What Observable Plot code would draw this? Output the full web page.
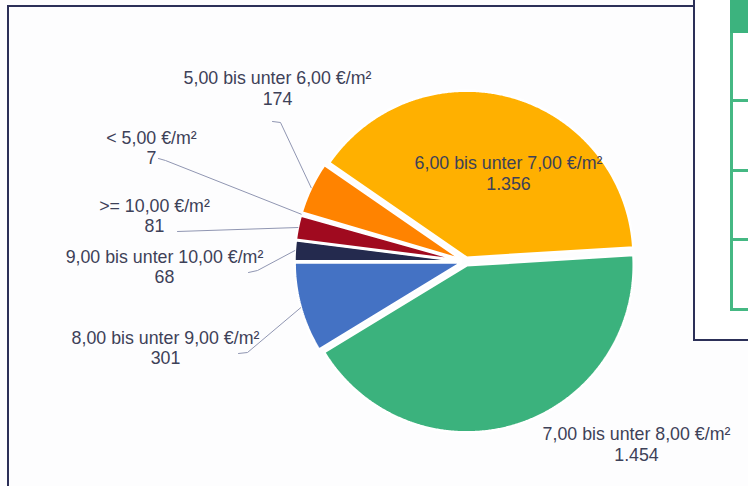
<!DOCTYPE html>
<html>
<head>
<meta charset="utf-8">
<script src="https://cdn.jsdelivr.net/npm/d3@7"></script>
<script src="https://cdn.jsdelivr.net/npm/@observablehq/plot@0.6"></script>
<style>
  html, body { margin: 0; padding: 0; background: #ffffff; }
  #wrap { position: relative; width: 748px; height: 486px; overflow: hidden; background: #fdfdfe; }
  #chart { position: absolute; left: 0; top: 0; }
  .ln { position: absolute; background: #2c3058; }
  .tbl { position: absolute; background: #ffffff; }
  .g { position: absolute; background: #45b883; }
</style>
</head>
<body>
<div id="wrap">
  <div id="chart"></div>
  <!-- outer frame -->
  <div class="ln" style="left:7px; top:5px; width:688px; height:2px;"></div>
  <div class="ln" style="left:7px; top:5px; width:2px; height:481px;"></div>
  <!-- overlapping table box on the right -->
  <div class="tbl" style="left:695px; top:0; width:53px; height:339px;"></div>
  <div class="ln" style="left:693px; top:0; width:2px; height:341px;"></div>
  <div class="ln" style="left:693px; top:339px; width:55px; height:2px;"></div>
  <div class="g" style="left:730px; top:0; width:18px; height:33px; background:#3cb37e;"></div>
  <div class="g" style="left:730px; top:33px; width:3px; height:278px;"></div>
  <div class="g" style="left:730px; top:99px; width:18px; height:3px;"></div>
  <div class="g" style="left:730px; top:169px; width:18px; height:3px;"></div>
  <div class="g" style="left:730px; top:238px; width:18px; height:3px;"></div>
  <div class="g" style="left:730px; top:308px; width:18px; height:3px;"></div>
</div>
<script>
// ---- data ----
const categories = ["< 5,00 €/m²", "5,00 bis unter 6,00 €/m²", "6,00 bis unter 7,00 €/m²", "7,00 bis unter 8,00 €/m²", "8,00 bis unter 9,00 €/m²", "9,00 bis unter 10,00 €/m²", ">= 10,00 €/m²"];
const counts = [7, 174, 1356, 1454, 301, 68, 81];
const countLabels = ["7", "174", "1.356", "1.454", "301", "68", "81"];
const colors = ["#dfe3ec", "#ff8300", "#ffb000", "#3bb27d", "#4472c4", "#242a4e", "#a00a1f"];

// ---- layout ----
const W = 748, H = 486;
const cx = 465, cy = 261, R = 167, explode = 4;
const boundaryDeg = 86.5; // angle (clockwise from 12 o'clock) between 3rd and 4th slice
const labelCenter = [[151, 147], [277, 87.5], [508, 172.5], [636, 443.5], [165, 347], [164, 266], [154, 215]];
const leaderStart = [[[158, 158], [165, 160]], [[272, 121], [280, 122]], null, null, [[238, 353], [247, 352]], [[248, 272], [257, 270]], [[177, 231]]];

const deg = Math.PI / 180;
const before = counts.slice(0, 3).reduce((a, b) => a + b, 0);
const total = d3.sum(counts);
const start = boundaryDeg * deg - before / total * 2 * Math.PI;
const arcs = d3.pie().sort(null).value(d => d).startAngle(start).endAngle(start + 2 * Math.PI)(counts);

const slicePts = [];
const leaders = [];
arcs.forEach((a, i) => {
  const mid = (a.startAngle + a.endAngle) / 2;
  const ox = explode * Math.sin(mid), oy = -explode * Math.cos(mid);
  const px = cx + ox, py = cy + oy;
  slicePts.push({cat: categories[i], x: px, y: py});
  const n = Math.max(2, Math.ceil((a.endAngle - a.startAngle) / (0.4 * deg)));
  for (let k = 0; k <= n; k++) {
    const t = a.startAngle + (a.endAngle - a.startAngle) * k / n;
    slicePts.push({cat: categories[i], x: px + R * Math.sin(t), y: py - R * Math.cos(t)});
  }
  if (leaderStart[i]) {
    leaderStart[i].forEach(p => leaders.push({cat: categories[i], x: p[0], y: p[1]}));
    leaders.push({cat: categories[i], x: px + R * Math.sin(mid), y: py - R * Math.cos(mid)});
  }
});

const labels = categories.map((c, i) => ({cat: c, text: c + "\n" + countLabels[i], x: labelCenter[i][0], y: labelCenter[i][1]}));

const chart = Plot.plot({
  width: W,
  height: H,
  margin: 0,
  style: {background: "transparent", fontFamily: "'Liberation Sans', Arial, sans-serif"},
  x: {domain: [0, W], range: [0, W], axis: null},
  y: {domain: [0, H], range: [0, H], axis: null},
  color: {domain: categories, range: colors},
  marks: [
    Plot.line(slicePts, {x: "x", y: "y", z: "cat", fill: "cat", stroke: "white", strokeWidth: 2.5, strokeLinejoin: "miter", curve: "linear-closed"}),
    Plot.line(leaders, {x: "x", y: "y", z: "cat", stroke: "#9096b2", strokeWidth: 1}),
    Plot.text(labels, {x: "x", y: "y", text: "text", fill: "#3d4158", fontSize: 17.8, lineHeight: 1.16, textAnchor: "middle", lineAnchor: "middle"})
  ]
});
document.getElementById("chart").appendChild(chart);
</script>
</body>
</html>
